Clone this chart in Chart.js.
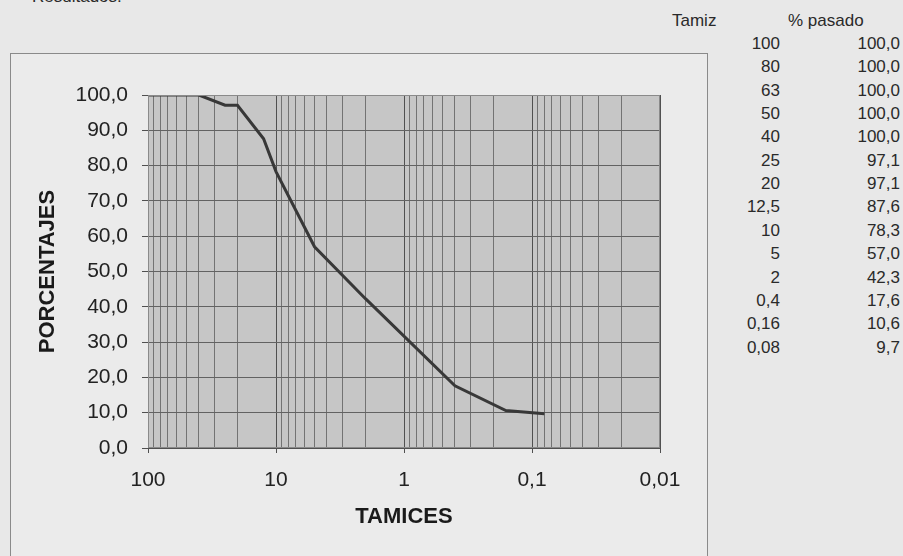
<!DOCTYPE html>
<html><head><meta charset="utf-8">
<script src="https://cdn.jsdelivr.net/npm/chart.js@4.4.0/dist/chart.umd.min.js"></script>
<style>
html,body{margin:0;padding:0;width:903px;height:556px;overflow:hidden;background:#e8e8e8;font-family:"Liberation Sans",Arial,sans-serif;color:#222;}
#box{position:absolute;left:10px;top:53px;width:696px;height:540px;border:1px solid #8a8a8a;background:#ebebeb;}
#wrap{position:absolute;left:10px;top:53px;width:697px;height:503px;}
.t{position:absolute;font-size:17px;white-space:nowrap;line-height:20px;color:#2a2a2a;}
</style></head><body>
<div class="t" style="left:32px;top:-13px;">Resultados:</div>
<div id="box"></div>
<div id="wrap"><canvas id="c" width="697" height="503"></canvas></div>
<div id="table"></div>
<script>
const sieveSizes = [100, 80, 63, 50, 40, 25, 20, 12.5, 10, 5, 2, 0.4, 0.16, 0.08];
const percentPassing = [100.0, 100.0, 100.0, 100.0, 100.0, 97.1, 97.1, 87.6, 78.3, 57.0, 42.3, 17.6, 10.6, 9.7];
const xDecades = [100, 10, 1, 0.1, 0.01];
const xDecadeLabels = ['100', '10', '1', '0,1', '0,01'];
const tableHeaders = ['Tamiz', '% pasado'];
const xTitle = 'TAMICES';
const yTitle = 'PORCENTAJES';

const comma = s => String(s).replace('.', ',');

// table on the right
const tbl = document.getElementById('table');
function addText(txt, style) {
  const d = document.createElement('div');
  d.className = 't';
  d.textContent = txt;
  Object.assign(d.style, style);
  tbl.appendChild(d);
}
addText(tableHeaders[0], {left: '672px', top: '11px'});
addText(tableHeaders[1], {left: '788px', top: '11px'});
sieveSizes.forEach((s, i) => {
  const top = (34 + i * 23.35) + 'px';
  addText(comma(s), {right: '123px', top: top, textAlign: 'right'});
  addText(comma(percentPassing[i].toFixed(1)), {right: '3px', top: top, textAlign: 'right'});
});

const isDecade = v => Math.abs(Math.log10(v) - Math.round(Math.log10(v))) < 1e-9;

const plotBg = {
  id: 'plotBg',
  beforeDraw(chart) {
    const {ctx, chartArea: a} = chart;
    ctx.save();
    ctx.fillStyle = '#c6c6c6';
    ctx.fillRect(a.left, a.top, a.right - a.left, a.bottom - a.top);
    ctx.restore();
  },
  afterDraw(chart) {
    const {ctx, chartArea: a} = chart;
    ctx.save();
    ctx.strokeStyle = '#8a8a8a';
    ctx.lineWidth = 1;
    ctx.strokeRect(a.left + 0.5, a.top + 0.5, a.right - a.left - 1, a.bottom - a.top - 1);
    ctx.restore();
  }
};

const tickFont = {family: '"Liberation Sans", Arial, sans-serif', size: 21};
const titleFont = {family: '"Liberation Sans", Arial, sans-serif', size: 22, weight: 'bold'};

new Chart(document.getElementById('c'), {
  type: 'line',
  data: {
    datasets: [{
      data: sieveSizes.map((s, i) => ({x: s, y: percentPassing[i]})),
      borderColor: '#383838',
      borderWidth: 3,
      pointRadius: 0,
      tension: 0,
      fill: false
    }]
  },
  options: {
    responsive: false,
    animation: false,
    events: [],
    layout: {padding: {left: 0, top: 42, right: 47, bottom: 26}},
    plugins: {legend: {display: false}, tooltip: {enabled: false}},
    scales: {
      x: {
        type: 'logarithmic',
        reverse: true,
        min: Math.min(...xDecades),
        max: Math.max(...xDecades),
        afterFit: s => { s.height = 82; },
        afterBuildTicks: s => {
          const ticks = [];
          const decs = [...xDecades].sort((a, b) => a - b);
          for (let k = 0; k < decs.length - 1; k++) {
            for (let m = 1; m <= 9; m++) ticks.push({value: Number((m * decs[k]).toPrecision(8))});
          }
          ticks.push({value: decs[decs.length - 1]});
          s.ticks = ticks;
        },
        grid: {
          color: c => (c.tick && isDecade(c.tick.value)) ? '#505050' : 'rgba(80,80,80,0.7)',
          lineWidth: 1,
          drawTicks: true,
          tickLength: 5,
          tickColor: c => (c.tick && isDecade(c.tick.value)) ? '#505050' : 'rgba(0,0,0,0)'
        },
        border: {display: true, color: '#505050', width: 1},
        ticks: {
          autoSkip: false,
          maxRotation: 0,
          padding: 15,
          color: '#222',
          font: tickFont,
          callback: v => {
            const i = xDecades.findIndex(d => Math.abs(d - v) < 1e-9 * d);
            return i >= 0 ? xDecadeLabels[i] : '';
          }
        },
        title: {display: true, text: xTitle, color: '#1a1a1a', font: titleFont, padding: {top: 0, bottom: 0}}
      },
      y: {
        min: 0,
        max: 100,
        afterFit: s => { s.width = 138; },
        grid: {color: '#626262', lineWidth: 1, drawTicks: true, tickLength: 6, tickColor: '#505050'},
        border: {display: true, color: '#505050', width: 1},
        ticks: {
          stepSize: 10,
          padding: 14,
          color: '#222',
          font: tickFont,
          callback: v => comma(Number(v).toFixed(1))
        },
        title: {display: true, text: yTitle, color: '#1a1a1a', font: titleFont, padding: {top: 25, bottom: 0}}
      }
    }
  },
  plugins: [plotBg]
});
</script>
</body></html>
